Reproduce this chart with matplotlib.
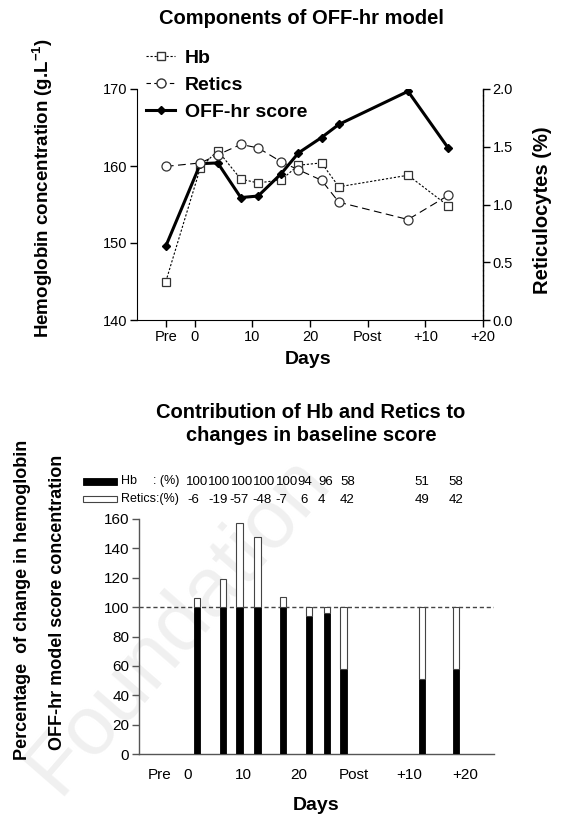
import matplotlib
matplotlib.use("Agg")
import matplotlib.pyplot as plt
import matplotlib.transforms as mtransforms
from matplotlib.lines import Line2D
from matplotlib.patches import Rectangle

plt.rcParams['font.family'] = ['Liberation Sans', 'DejaVu Sans']
plt.rcParams['mathtext.fontset'] = 'custom'
plt.rcParams['mathtext.rm'] = 'Liberation Sans'
plt.rcParams['mathtext.bf'] = 'Liberation Sans:bold'

# ---------------- data: top chart ----------------
days = [-5, 1, 4, 8, 11, 15, 18, 22, 25, 37, 44]
hb = [145.0, 159.8, 162.0, 158.3, 157.8, 158.2, 160.1, 160.4, 157.3, 158.8, 154.8]
retics = [1.33, 1.36, 1.43, 1.52, 1.49, 1.37, 1.30, 1.21, 1.02, 0.87, 1.08]
offhr = [149.6, 160.3, 160.4, 155.9, 156.1, 159.0, 161.7, 163.7, 165.4, 169.7, 162.3]
xtick_pos = [-5, 0, 10, 20, 30, 40, 50]
xtick_lab = ['Pre', '0', '10', '20', 'Post', '+10', '+20']

# ---------------- data: bottom chart ----------------
bar_days = [1.7, 6.4, 9.4, 12.6, 17.2, 21.9, 25.1, 28.1, 42.2, 48.4]
hb_pct = [100, 100, 100, 100, 100, 94, 96, 58, 51, 58]
retics_pct = [-6, -19, -57, -48, -7, 6, 4, 42, 49, 42]
# header label x positions (layout only)
hdr1_x = [1.75, 5.8, 9.9, 13.9, 17.9, 21.2, 24.9, 28.8, 42.2, 48.3]
hdr2_x = [1.0, 5.5, 9.3, 13.4, 16.9, 21.0, 24.1, 28.8, 42.2, 48.3]

W, H = 564, 825
fig = plt.figure(figsize=(W / 100, H / 100), dpi=100)


def fx(px):
    return px / W


def fy(py):
    return 1 - py / H


# watermark (behind everything)
fig.text(fx(178), fy(625), 'Foundation', rotation=49, fontsize=60,
         color='#f0f0f0', ha='center', va='center', zorder=-5)

# ================= TOP CHART =================
ax = fig.add_axes([fx(137), fy(320), fx(483) - fx(137), fy(89) - fy(320)])
ax.patch.set_alpha(0)
ax2 = ax.twinx()
ax2.patch.set_alpha(0)

ax.plot(days, hb, color='black', lw=0.8, ls=(0, (2, 1.6)), marker='s', ms=5.5,
        mfc='white', mec='#333333', mew=0.9, zorder=3)
ax2.plot(days, retics, color='black', lw=0.8, ls=(0, (7, 4)), marker='o', ms=6.5,
         mfc='white', mec='#333333', mew=0.9, zorder=3)
ax.plot(days, offhr, color='black', lw=2.2, marker='D', ms=4.5, mfc='black',
        mec='black', zorder=4)

ax.set_xlim(-10, 50)
ax.set_ylim(140, 170)
ax2.set_ylim(0, 2.0)
ax.set_yticks([140, 150, 160, 170])
ax2.set_yticks([0, 0.5, 1.0, 1.5, 2.0])
ax2.set_yticklabels(['0.0', '0.5', '1.0', '1.5', '2.0'])
ax.set_xticks(xtick_pos)
ax.set_xticklabels(xtick_lab)
for a in (ax, ax2):
    a.spines['top'].set_visible(False)
    a.tick_params(direction='out', length=5, width=1, labelsize=10.5, pad=2)
ax.spines['right'].set_visible(False)
ax2.spines['left'].set_visible(False)
ax2.spines['bottom'].set_visible(False)
ax2.spines['right'].set_linewidth(1.0)
ax2.spines['right'].set_linestyle((0, (3, 0.6)))

fig.text(fx(301), fy(18), 'Components of OFF-hr model', fontsize=14.5,
         fontweight='bold', ha='center', va='center')
fig.text(fx(43), fy(188), r'Hemoglobin concentration (g.L$^{\mathbf{-1}}$)',
         fontsize=13.5, fontweight='bold', rotation=90, ha='center', va='center')
fig.text(fx(543), fy(210), 'Reticulocytes (%)', fontsize=14.5, fontweight='bold',
         rotation=90, ha='center', va='center')
fig.text(fx(308), fy(360), 'Days', fontsize=14, fontweight='bold',
         ha='center', va='center')

handles = [
    Line2D([], [], color='black', lw=0.8, ls=(0, (2, 1.6)), marker='s', ms=5.5,
           mfc='white', mec='#333333'),
    Line2D([], [], color='black', lw=0.8, ls=(0, (4, 3)), marker='o', ms=6.5,
           mfc='white', mec='#333333'),
    Line2D([], [], color='black', lw=2.2, marker='D', ms=4.5, mfc='black'),
]
leg = fig.legend(handles, ['Hb', 'Retics', 'OFF-hr score'], loc='upper left',
                 bbox_to_anchor=(fx(146), fy(49)), frameon=False,
                 prop={'weight': 'bold', 'size': 14}, handlelength=1.5,
                 handletextpad=0.5, labelspacing=0.5, borderpad=0,
                 borderaxespad=0)

# ================= BOTTOM CHART =================
bx = fig.add_axes([fx(139), fy(754), fx(494) - fx(139), fy(519) - fy(754)])
bx.patch.set_alpha(0)
bw = 1.15
bx.bar(bar_days, hb_pct, width=bw, color='black', edgecolor='black', lw=0.6, zorder=3)
bx.bar(bar_days, [abs(r) for r in retics_pct], bottom=hb_pct, width=bw,
       color='white', edgecolor='#444444', lw=0.8, zorder=3)
bx.axhline(100, color='#444444', lw=1.0, ls=(0, (3, 2)), zorder=2)
bx.set_xlim(-8.7, 55.2)
bx.set_ylim(0, 160)
bx.set_yticks(range(0, 161, 20))
bx.set_xticks(xtick_pos)
bx.set_xticklabels(xtick_lab)
bx.spines['top'].set_visible(False)
bx.spines['right'].set_visible(False)
for s in ('left', 'bottom'):
    bx.spines[s].set_color('#555555')
    bx.spines[s].set_linewidth(1.0)
bx.tick_params(axis='y', direction='out', length=5, width=1, color='#555555',
               labelsize=11, pad=2)
bx.tick_params(axis='x', length=0, labelsize=11, pad=10)

fig.text(fx(311), fy(424), 'Contribution of Hb and Retics to\nchanges in baseline score',
         fontsize=14.5, fontweight='bold', ha='center', va='center', linespacing=1.25)
fig.text(fx(23), fy(600), 'Percentage  of change in hemoglobin', fontsize=13,
         fontweight='bold', rotation=90, ha='center', va='center')
fig.text(fx(58), fy(602), 'OFF-hr model score concentration', fontsize=13,
         fontweight='bold', rotation=90, ha='center', va='center')
fig.text(fx(316), fy(805), 'Days', fontsize=14, fontweight='bold',
         ha='center', va='center')

# header legend rows
fig.patches.append(Rectangle((fx(83), fy(485)), fx(117) - fx(83), fy(478) - fy(485),
                             transform=fig.transFigure, facecolor='black',
                             edgecolor='black', lw=0.6))
fig.patches.append(Rectangle((fx(83), fy(502)), fx(117) - fx(83), fy(496) - fy(502),
                             transform=fig.transFigure, facecolor='white',
                             edgecolor='#444444', lw=0.8))
fig.text(fx(121), fy(481), 'Hb', fontsize=9, ha='left', va='center')
fig.text(fx(153), fy(481), ': (%)', fontsize=9, ha='left', va='center')
fig.text(fx(121), fy(499), 'Retics:(%)', fontsize=9, ha='left', va='center')
trans = mtransforms.blended_transform_factory(bx.transData, fig.transFigure)
for x, v in zip(hdr1_x, hb_pct):
    fig.text(x, fy(482), str(v), transform=trans, fontsize=9.5, ha='center', va='center')
for x, v in zip(hdr2_x, retics_pct):
    fig.text(x, fy(500), str(v), transform=trans, fontsize=9.5, ha='center', va='center')

fig.savefig('out.png', dpi=100)
